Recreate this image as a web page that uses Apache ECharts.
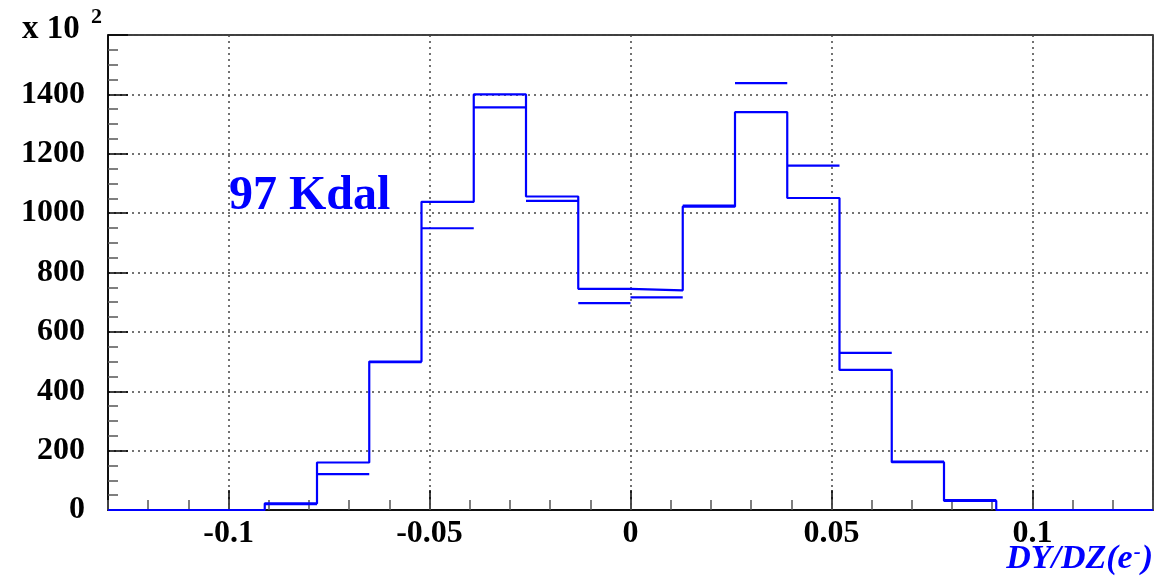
<!DOCTYPE html>
<html>
<head>
<meta charset="utf-8">
<script src="https://cdn.jsdelivr.net/npm/echarts@6/dist/echarts.min.js"></script>
<style>
  html, body { margin: 0; padding: 0; background: #fff; }
  #chart { width: 1159px; height: 579px; }
</style>
</head>
<body>
<div id="chart"></div>
<script>
// Bin edges of the DY/DZ histogram (20 bins, width 0.013)
const binEdges = [-0.13, -0.117, -0.104, -0.091, -0.078, -0.065, -0.052, -0.039, -0.026, -0.013,
                  0, 0.013, 0.026, 0.039, 0.052, 0.065, 0.078, 0.091, 0.104, 0.117, 0.13];
// Entries per bin (x 10^2), drawn as a step outline
const histValues = [0, 0, 0, 22, 160, 500, 1038, 1400, 1056, 745,
                    740, 1022, 1340, 1051, 472, 161, 31, 0, 0, 0];
// Comparison entries per bin (x 10^2), drawn as horizontal bars; null = not drawn
const refValues = [null, null, 0, 20, 121, 498, 949, 1356, 1041, 697,
                   716, 1025, 1438, 1160, 529, 163, 33, 0, null, null];
// Axis ranges and ticks
const xRange = [-0.13, 0.13];
const yRange = [0, 1600];
const yStep = 200;
const xMinorStep = 0.01;

const BLUE = '#0000ff';
const SERIF = '"Liberation Serif", "Times New Roman", serif';

// Step outline points: each bin contributes its left and right edge at the bin height
const stepPoints = [];
histValues.forEach((v, i) => {
  stepPoints.push([binEdges[i], v]);
  stepPoints.push([binEdges[i + 1], v]);
});

const refData = [];
refValues.forEach((v, i) => {
  if (v !== null) refData.push([binEdges[i], binEdges[i + 1], v]);
});

const chart = echarts.init(document.getElementById('chart'), null, { renderer: 'canvas' });

chart.setOption({
  animation: false,
  backgroundColor: '#fff',
  grid: {
    left: 108, right: 6, top: 35, bottom: 69,
    show: true, borderColor: '#000', borderWidth: 1.5, backgroundColor: 'transparent'
  },
  xAxis: [
    {
      type: 'value', min: xRange[0], max: xRange[1], splitNumber: 5,
      axisLine: { show: true, onZero: false, lineStyle: { color: '#000', width: 1.5 } },
      axisTick: { show: true, inside: true, length: 20, lineStyle: { color: '#000', width: 1.5 } },
      axisLabel: {
        showMinLabel: false, showMaxLabel: false, margin: 8,
        fontFamily: SERIF, fontWeight: 'bold', fontSize: 32, color: '#000',
        formatter: v => (Math.abs(v) < 1e-9 ? '0' : String(+v.toFixed(3)))
      },
      splitLine: { show: true, lineStyle: { color: '#444', width: 1.5, type: [2, 4] } }
    },
    {
      // minor ticks every 0.01
      type: 'value', position: 'bottom', min: xRange[0], max: xRange[1], interval: xMinorStep,
      axisLine: { show: false, onZero: false },
      axisTick: { show: true, inside: true, length: 10, lineStyle: { color: '#555', width: 1.5 } },
      axisLabel: { show: false },
      splitLine: { show: false }
    }
  ],
  yAxis: {
    type: 'value', min: yRange[0], max: yRange[1], interval: yStep, position: 'left',
    axisLine: { show: true, onZero: false, lineStyle: { color: '#000', width: 1.5 } },
    axisTick: { show: true, inside: true, length: 20, lineStyle: { color: '#000', width: 1.5 } },
    minorTick: { show: true, splitNumber: 4, length: 10, lineStyle: { color: '#555', width: 1.5 } },
    axisLabel: {
      margin: 23, showMaxLabel: false, fontFamily: SERIF, fontWeight: 'bold', fontSize: 32, color: '#000',
      formatter: v => String(v)
    },
    splitLine: { show: true, lineStyle: { color: '#444', width: 1.5, type: [2, 4] } }
  },
  series: [
    {
      type: 'line', xAxisIndex: 0, data: stepPoints, showSymbol: false, symbol: 'none',
      lineStyle: { color: BLUE, width: 2.2 }, z: 5
    },
    {
      type: 'custom', xAxisIndex: 0, data: refData, z: 6,
      renderItem: (params, api) => {
        const p0 = api.coord([api.value(0), api.value(2)]);
        const p1 = api.coord([api.value(1), api.value(2)]);
        return {
          type: 'line',
          shape: { x1: p0[0], y1: p0[1], x2: p1[0], y2: p1[1] },
          style: { stroke: BLUE, lineWidth: 2.2 }
        };
      },
      encode: { x: [0, 1], y: 2 }
    }
  ],
  graphic: [
    { type: 'text', left: 22, top: 13, style: { text: 'x 10', font: 'bold 33px ' + SERIF, fill: '#000' } },
    { type: 'text', left: 91, top: 6, style: { text: '2', font: 'bold 22px ' + SERIF, fill: '#000' } },
    { type: 'text', left: 229, top: 173, style: { text: '97 Kdal', font: 'bold 48px ' + SERIF, fill: BLUE } },
    {
      type: 'text', right: 6, top: 542,
      style: {
        text: '{m|DY/DZ(e}{s|-}{m|)}',
        rich: {
          m: { font: 'italic bold 34px ' + SERIF, fill: BLUE },
          s: { font: 'italic bold 21px ' + SERIF, fill: BLUE, verticalAlign: 'top', padding: [0, 1, 12, 1] }
        }
      }
    }
  ]
});
</script>
</body>
</html>
